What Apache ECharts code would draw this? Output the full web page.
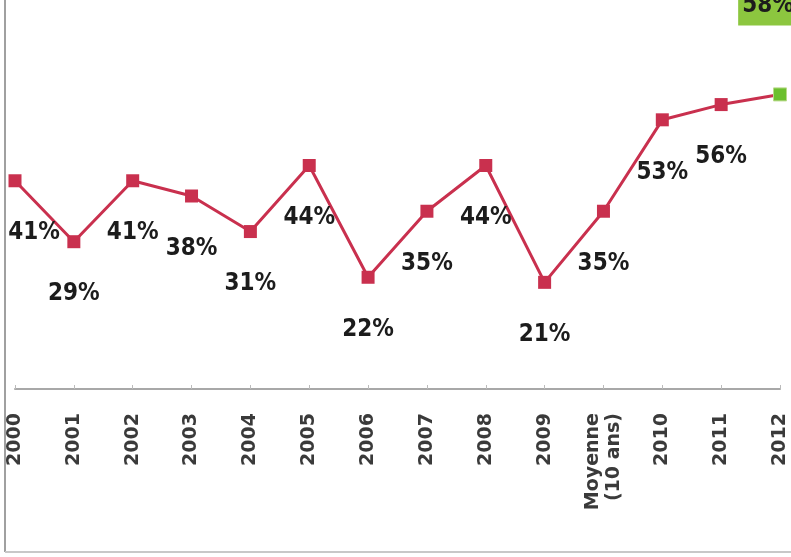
<!DOCTYPE html>
<html>
<head>
<meta charset="utf-8">
<script src="https://cdn.jsdelivr.net/npm/echarts@6/dist/echarts.min.js"></script>
<style>html,body{margin:0;padding:0;background:#fff;}#c{width:791px;height:557px;}</style>
</head>
<body>
<div id="c"></div>
<script>
var categories = ['2000','2001','2002','2003','2004','2005','2006','2007','2008','2009','Moyenne\n(10 ans)','2010','2011','2012'];
var values = [41, 29, 41, 38, 31, 44, 22, 35, 44, 21, 35, 53, 56, 58];

var chart = echarts.init(document.getElementById('c'), null, {renderer: 'canvas'});
var lineColor = '#c9304e';
var data = values.map(function (v, i) {
  var d = {value: v};
  if (i === 0) d.label = {offset: [19, 0]};
  if (i === values.length - 1) {
    d.itemStyle = {color: '#6cbf2e', borderColor: '#b8d98a', borderWidth: 1};
    d.label = {
      position: 'top', distance: 62, offset: [-12, 0],
      backgroundColor: '#8cc63f', padding: [0, 4, 0, 4], lineHeight: 40,
      verticalAlign: 'bottom'
    };
  }
  return d;
});

chart.setOption({
  animation: false,
  backgroundColor: '#ffffff',
  grid: {left: 15, right: 11, top: 3, bottom: 168, containLabel: false},
  xAxis: {
    type: 'category',
    data: categories,
    boundaryGap: false,
    axisLine: {show: true, lineStyle: {color: '#a8a8a8', width: 2}},
    axisTick: {show: true, length: 4, inside: true, lineStyle: {color: '#bbb'}},
    axisLabel: {
      rotate: 90, margin: 24, interval: 0,
      fontFamily: 'DejaVu Sans', fontSize: 19, fontWeight: 'bold', color: '#3a3a3a',
      lineHeight: 21
    }
  },
  yAxis: {
    type: 'value', min: 0, max: 76, show: false,
    splitLine: {show: false}
  },
  series: [{
    type: 'line',
    data: data,
    symbol: 'rect',
    symbolSize: 13,
    lineStyle: {color: lineColor, width: 3},
    itemStyle: {color: lineColor},
    label: {
      show: true, position: 'bottom', distance: 34,
      formatter: '{c}%',
      fontFamily: '"DejaVu Sans Condensed", sans-serif',
      fontSize: 24, fontWeight: 'bold', color: '#1c1c1c'
    }
  }],
  graphic: [
    {type: 'line', shape: {x1: 5, y1: 0, x2: 5, y2: 552}, style: {stroke: '#a0a0a0', lineWidth: 2}},
    {type: 'line', shape: {x1: 5, y1: 552, x2: 791, y2: 552}, style: {stroke: '#c8c8c8', lineWidth: 2}}
  ]
});
</script>
</body>
</html>
